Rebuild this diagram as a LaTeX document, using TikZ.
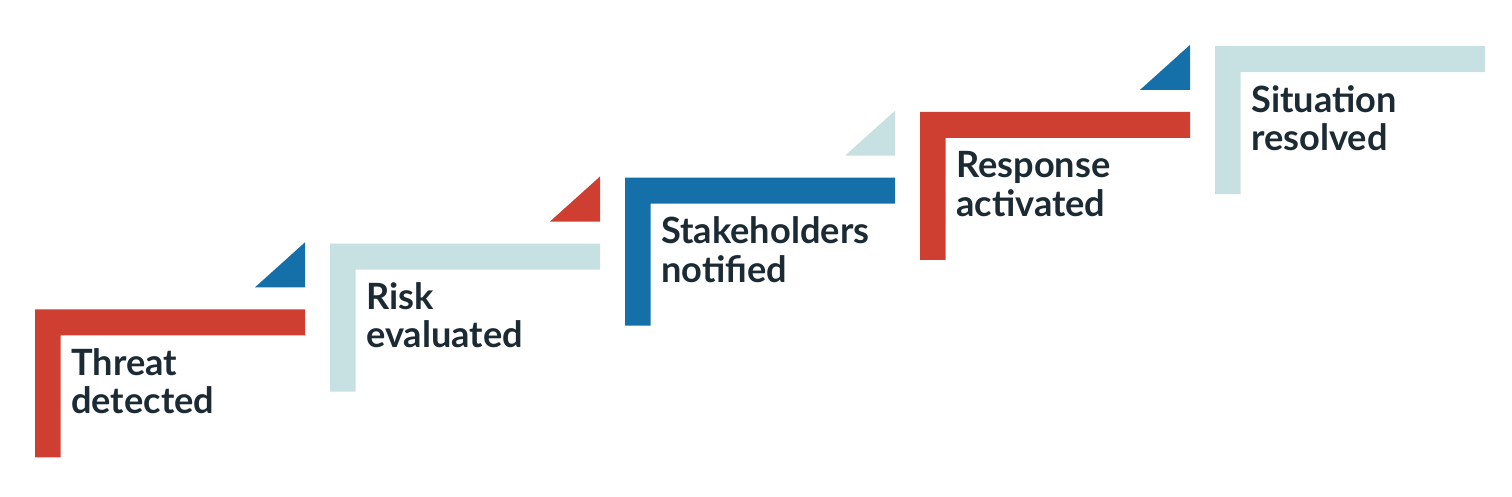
\documentclass[tikz,border=0pt]{standalone}
\usepackage{fontspec}
\setmainfont{Lato}
\definecolor{cred}{HTML}{CE3F32}
\definecolor{cblue}{HTML}{1570AA}
\definecolor{clight}{HTML}{C7E0E2}
\definecolor{ctext}{HTML}{1B2A33}
\tikzset{
  steplabel/.style={anchor=base west, inner sep=0pt, align=left, text=ctext,
    font=\fontsize{36.2}{38.3}\selectfont\bfseries},
}
\begin{document}
\begin{tikzpicture}[x=1pt,y=-1pt]
\useasboundingbox (0,0) rectangle (1512,496);
\foreach \i/\lc/\tc/\txt in {0/cred/cblue/{Threat\\detected},1/clight/cred/{Risk\\evaluated},2/cblue/clight/{Stakeholders\\notified},3/cred/cblue/{Response\\activated},4/clight/none/{Situation\\resolved}}{
  \pgfmathsetmacro{\X}{35+295*\i}
  \pgfmathsetmacro{\Y}{309.3-65.8*\i}
  \fill[\lc] (\X,\Y) -- ++(270,0) -- ++(0,26) -- ++(-244.5,0) -- ++(0,122) -- ++(-25.5,0) -- cycle;
  \ifnum\i<4
    \fill[\tc] (\X+220,\Y-22) -- (\X+270,\Y-22) -- (\X+270,\Y-67) -- cycle;
  \fi
  \node[steplabel] (t\i) at (\X+36,\Y+104.3) {\txt};
}
\end{tikzpicture}
\end{document}
